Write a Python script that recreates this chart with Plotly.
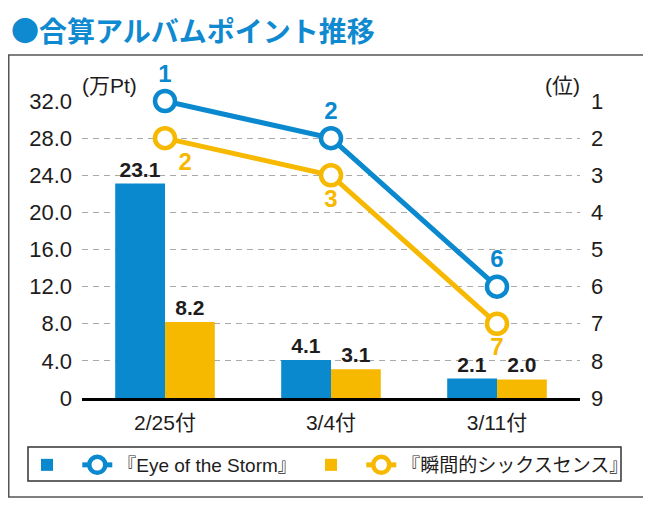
import plotly.graph_objects as go

dates = ["2/25付", "3/4付", "3/11付"]
eye_pts = [23.1, 4.1, 2.1]
shunkan_pts = [8.2, 3.1, 2.0]
eye_rank = [1, 2, 6]
shunkan_rank = [2, 3, 7]
y_ticks = [0, 4, 8, 12, 16, 20, 24, 28, 32]
y_ticktext = ["0", "4.0", "8.0", "12.0", "16.0", "20.0", "24.0", "28.0", "32.0"]
rank_ticks = [1, 2, 3, 4, 5, 6, 7, 8, 9]

BLUE = "#0a89cf"
YELLOW = "#f7b800"
INK = "#1e1c1c"
FONT = "Liberation Sans, Arial, Noto Sans CJK JP"

# the page has an 8px body margin; the figure is shrunk and laid out in page pixels
OFF = 8
W, H = 651 - OFF, 511 - OFF
ml, mt = 82 - OFF, 101 - OFF
mr = W - (580 - OFF)
mb = H - (398 - OFF)
pw, ph = W - ml - mr, H - mt - mb

def px_x(p):
    return (max(p - OFF, 0.75) - ml) / pw

def px_y(p):
    return (H - mb - max(p - OFF, 0)) / ph

fig = go.Figure()

fig.add_trace(go.Bar(
    x=dates, y=eye_pts, name=" ", marker=dict(color=BLUE, line=dict(width=0)),
    texttemplate="<b>%{y:.1f}</b>", textposition="outside", cliponaxis=False,
    textfont=dict(size=21, color=INK, family=FONT), legend="legend",
))
fig.add_trace(go.Scatter(
    x=dates, y=eye_rank, yaxis="y2", name="『Eye of the Storm』", mode="lines+markers+text",
    line=dict(color=BLUE, width=5),
    marker=dict(symbol="circle", size=20, color="white", line=dict(color=BLUE, width=4.5)),
    text=["<b>%d</b>" % r for r in eye_rank], textposition="top center",
    textfont=dict(size=24, color=BLUE, family=FONT), cliponaxis=False, legend="legend",
))
fig.add_trace(go.Bar(
    x=dates, y=shunkan_pts, name=" ", marker=dict(color=YELLOW, line=dict(width=0)),
    texttemplate="<b>%{y:.1f}</b>", textposition="outside", cliponaxis=False,
    textfont=dict(size=21, color=INK, family=FONT), legend="legend2",
))
fig.add_trace(go.Scatter(
    x=dates, y=shunkan_rank, yaxis="y2", name="『瞬間的シックスセンス』", mode="lines+markers+text",
    line=dict(color=YELLOW, width=5),
    marker=dict(symbol="circle", size=20, color="white", line=dict(color=YELLOW, width=4.5)),
    text=["<b>%d</b>" % r for r in shunkan_rank],
    textposition=["bottom right", "bottom center", "bottom center"],
    textfont=dict(size=24, color=YELLOW, family=FONT), cliponaxis=False, legend="legend2",
))

legend_common = dict(
    orientation="h", xanchor="left", yanchor="middle", borderwidth=0,
    bgcolor="rgba(0,0,0,0)", font=dict(size=19, family=FONT, color=INK),
    traceorder="normal", itemsizing="trace",
)

fig.update_layout(
    width=W, height=H,
    margin=dict(l=ml, r=mr, t=mt, b=mb, autoexpand=False),
    paper_bgcolor="white", plot_bgcolor="white",
    font=dict(family=FONT, color=INK, size=21),
    barmode="group", bargap=0.4, bargroupgap=0,
    showlegend=True,
    legend=dict(x=px_x(27), y=px_y(465), **legend_common),
    legend2=dict(x=px_x(311), y=px_y(465), **legend_common),
    xaxis=dict(
        showgrid=False, showline=True, linecolor="black", linewidth=2.5,
        ticks="", tickfont=dict(size=21, color=INK), ticklabelstandoff=4,
    ),
    yaxis=dict(
        range=[0, 32], tickvals=y_ticks, ticktext=y_ticktext,
        showgrid=True, gridcolor="#aaaaaa", griddash="6px,5px", gridwidth=1.2,
        zeroline=False, showline=False, ticks="", ticklabelstandoff=9,
        tickfont=dict(size=22, color=INK),
    ),
    yaxis2=dict(
        overlaying="y", side="right", range=[9, 1], tickvals=rank_ticks,
        showgrid=False, zeroline=False, showline=False, ticks="", ticklabelstandoff=10,
        tickfont=dict(size=22, color=INK),
    ),
    shapes=[
        dict(type="rect", xref="paper", yref="paper",
             x0=px_x(5), x1=px_x(645), y0=px_y(497), y1=px_y(55),
             line=dict(color="#555", width=1.5), fillcolor="rgba(0,0,0,0)", layer="below"),
        dict(type="rect", xref="paper", yref="paper",
             x0=px_x(28), x1=px_x(621), y0=px_y(481), y1=px_y(447),
             line=dict(color="#333", width=1.5), fillcolor="rgba(0,0,0,0)", layer="below"),
    ],
    annotations=[
        dict(text="<b>●合算アルバムポイント推移</b>", xref="paper", yref="paper",
             x=px_x(5), y=px_y(5), xanchor="left", yanchor="top", showarrow=False,
             font=dict(size=28, color="#0f89d0", family="Noto Sans CJK JP")),
        dict(text="(万Pt)", xref="paper", yref="paper", x=px_x(80), y=px_y(85),
             xanchor="left", yanchor="middle", showarrow=False,
             font=dict(size=21, color=INK, family=FONT)),
        dict(text="(位)", xref="paper", yref="paper", x=px_x(582), y=px_y(85),
             xanchor="right", yanchor="middle", showarrow=False,
             font=dict(size=21, color=INK, family=FONT)),
    ],
)

fig.write_html("out.html")
